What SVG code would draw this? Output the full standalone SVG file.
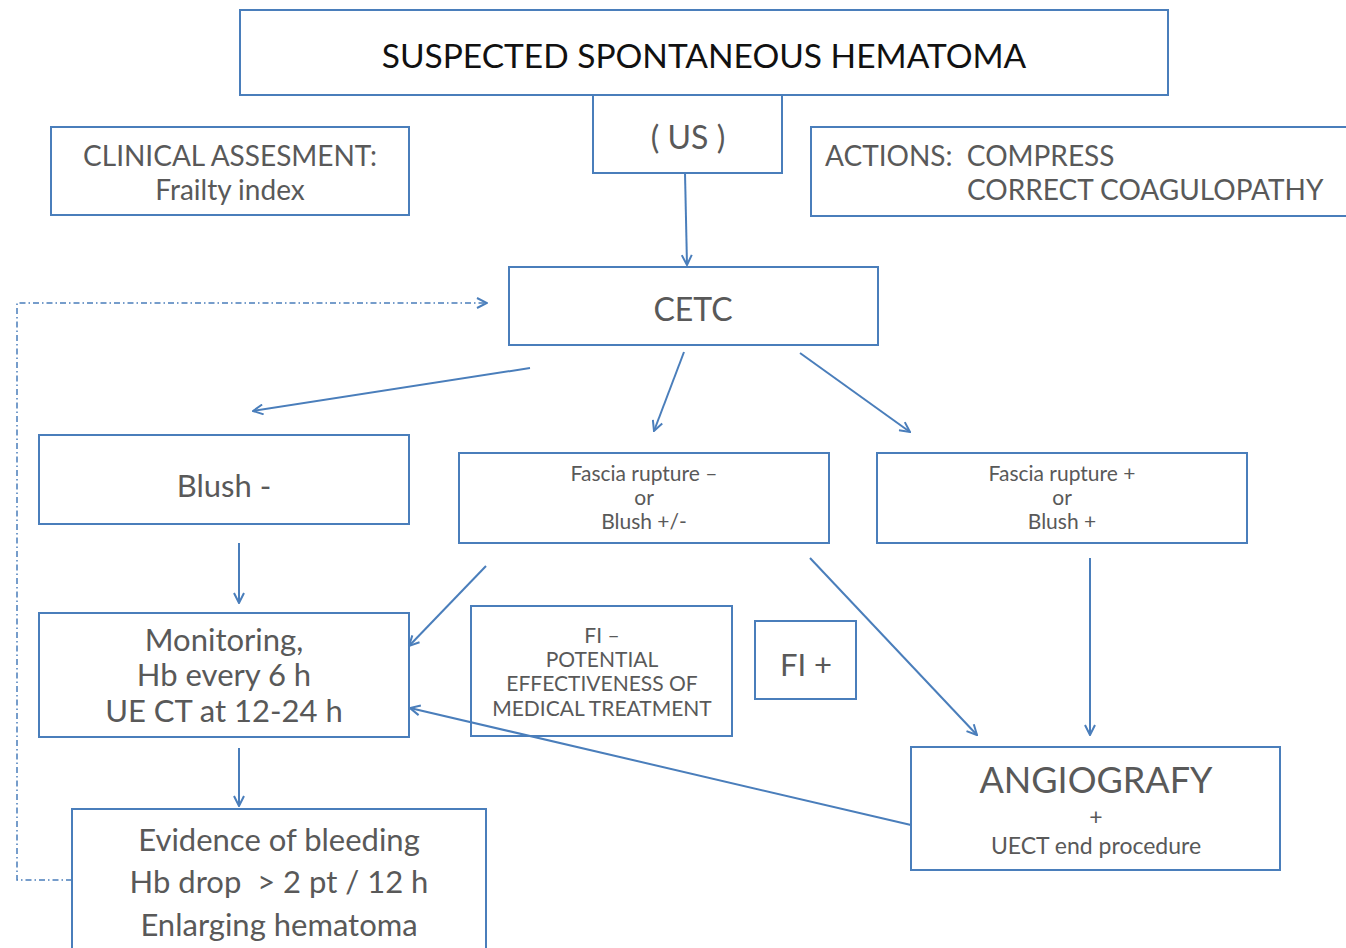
<svg xmlns="http://www.w3.org/2000/svg" width="1346" height="948" viewBox="0 0 1346 948">
<defs>
<style>
.box{fill:#fff;stroke:#4a7ebb;stroke-width:2}
.t{font-family:Lato,"Open Sans","Liberation Sans",sans-serif;fill:#595959;text-anchor:middle;white-space:pre}
.c{stroke:#4a7ebb;stroke-width:2;fill:none}
.d{stroke:#4a7ebb;stroke-width:1.5;fill:none;stroke-dasharray:6,3,1.5,3}
</style>
<marker id="ah" viewBox="0 0 12 12" refX="11" refY="6" markerWidth="12" markerHeight="12" markerUnits="userSpaceOnUse" orient="auto">
<path d="M1,1 L11,6 L1,11" fill="none" stroke="#4a7ebb" stroke-width="2"/>
</marker>
</defs>
<rect width="1346" height="948" fill="#fff"/>
<g id="title">
<rect class="box" x="240" y="10" width="928" height="85"/>
<text class="t" x="704" y="68" font-size="33.5" style="fill:#111">SUSPECTED SPONTANEOUS HEMATOMA</text>
</g>
<g id="us">
<rect class="box" x="593" y="95" width="189" height="78"/>
<text class="t" x="688" y="149" font-size="32">( US )</text>
</g>
<g id="clinical">
<rect class="box" x="51" y="127" width="358" height="88"/>
<text class="t" x="230" y="166" font-size="28">CLINICAL ASSESMENT:</text>
<text class="t" x="230" y="200" font-size="28">Frailty index</text>
</g>
<g id="actions">
<rect class="box" x="811" y="127" width="545" height="89"/>
<text class="t" x="825" y="166" font-size="28" style="text-anchor:start" xml:space="preserve">ACTIONS:  COMPRESS</text>
<text class="t" x="967" y="200" font-size="28" style="text-anchor:start">CORRECT COAGULOPATHY</text>
</g>
<g id="cetc">
<rect class="box" x="509" y="267" width="369" height="78"/>
<text class="t" x="693" y="321" font-size="32">CETC</text>
</g>
<g id="blush-neg">
<rect class="box" x="39" y="435" width="370" height="89"/>
<text class="t" x="224" y="497" font-size="31">Blush -</text>
</g>
<g id="fascia-neg">
<rect class="box" x="459" y="453" width="370" height="90"/>
<text class="t" x="644" y="481" font-size="21">Fascia rupture –</text>
<text class="t" x="644" y="505" font-size="21">or</text>
<text class="t" x="644" y="529" font-size="21">Blush +/-</text>
</g>
<g id="fascia-pos">
<rect class="box" x="877" y="453" width="370" height="90"/>
<text class="t" x="1062" y="481" font-size="21">Fascia rupture +</text>
<text class="t" x="1062" y="505" font-size="21">or</text>
<text class="t" x="1062" y="529" font-size="21">Blush +</text>
</g>
<g id="monitoring">
<rect class="box" x="39" y="613" width="370" height="124"/>
<text class="t" x="224" y="651" font-size="31">Monitoring,</text>
<text class="t" x="224" y="686" font-size="31">Hb every 6 h</text>
<text class="t" x="224" y="722" font-size="31">UE CT at 12-24 h</text>
</g>
<g id="fi-neg">
<rect class="box" x="471" y="606" width="261" height="130"/>
<text class="t" x="602" y="643" font-size="21">FI –</text>
<text class="t" x="602" y="667" font-size="21">POTENTIAL</text>
<text class="t" x="602" y="691" font-size="21">EFFECTIVENESS OF</text>
<text class="t" x="602" y="716" font-size="21">MEDICAL TREATMENT</text>
</g>
<g id="fi-pos">
<rect class="box" x="755" y="621" width="101" height="78"/>
<text class="t" x="806" y="676" font-size="31">FI +</text>
</g>
<g id="angio">
<rect class="box" x="911" y="747" width="369" height="123"/>
<text class="t" x="1096" y="793" font-size="36">ANGIOGRAFY</text>
<text class="t" x="1096" y="825" font-size="23">+</text>
<text class="t" x="1096" y="854" font-size="23">UECT end procedure</text>
</g>
<g id="evidence">
<rect class="box" x="72" y="809" width="414" height="150"/>
<text class="t" x="279" y="851" font-size="31">Evidence of bleeding</text>
<text class="t" x="279" y="893" font-size="31" xml:space="preserve">Hb drop  &gt; 2 pt / 12 h</text>
<text class="t" x="279" y="936" font-size="31">Enlarging hematoma</text>
</g>
<g id="connectors">
<path class="c" d="M685,173 L687,265" marker-end="url(#ah)"/>
<path class="d" d="M72,880 L17,880 L17,303 L487,303" marker-end="url(#ah)"/>
<path class="c" d="M530,368 L253,411" marker-end="url(#ah)"/>
<path class="c" d="M684,352 L654,431" marker-end="url(#ah)"/>
<path class="c" d="M800,353 L910,432" marker-end="url(#ah)"/>
<path class="c" d="M239,543 L239,603" marker-end="url(#ah)"/>
<path class="c" d="M486,566 L409,646" marker-end="url(#ah)"/>
<path class="c" d="M810,558 L977,735" marker-end="url(#ah)"/>
<path class="c" d="M1090,558 L1090,735" marker-end="url(#ah)"/>
<path class="c" d="M911,825 L410,708" marker-end="url(#ah)"/>
<path class="c" d="M239,748 L239,806" marker-end="url(#ah)"/>
</g>
</svg>
